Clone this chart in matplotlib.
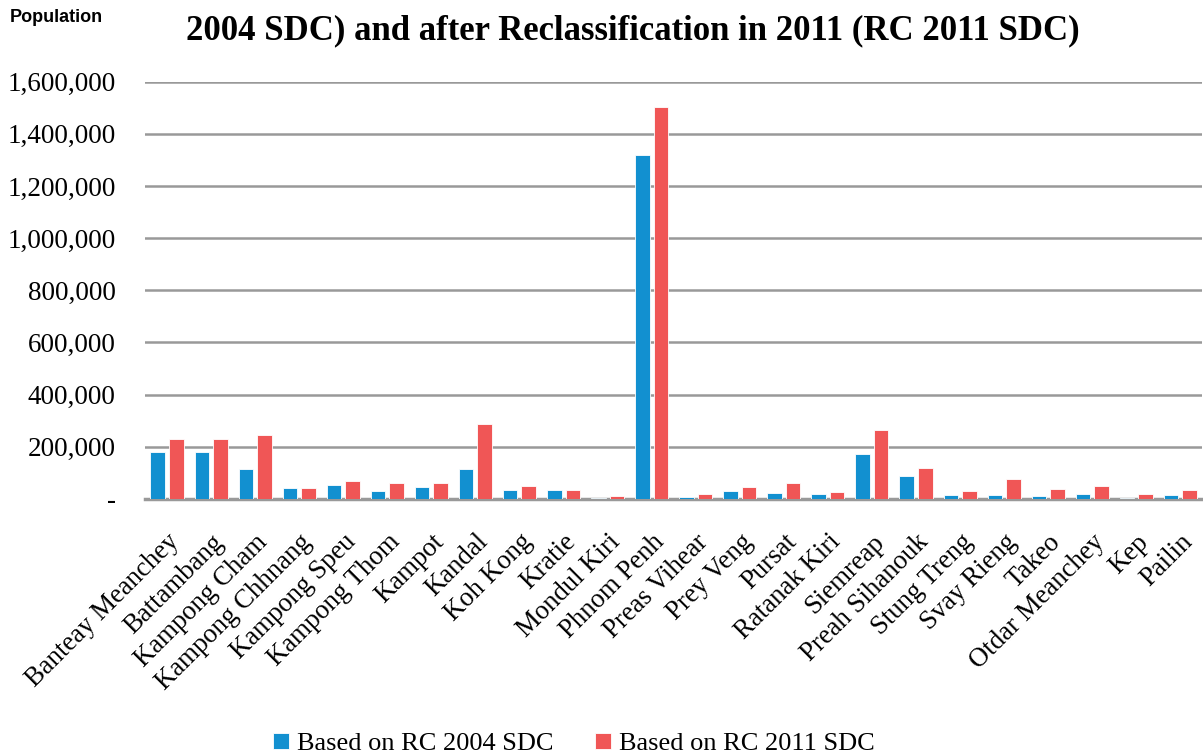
import numpy as np
import matplotlib.pyplot as plt
from matplotlib.ticker import FuncFormatter

provinces = ["Banteay Meanchey", "Battambang", "Kampong Cham", "Kampong Chhnang",
             "Kampong Speu", "Kampong Thom", "Kampot", "Kandal", "Koh Kong", "Kratie",
             "Mondul Kiri", "Phnom Penh", "Preas Vihear", "Prey Veng", "Pursat",
             "Ratanak Kiri", "Siemreap", "Preah Sihanouk", "Stung Treng", "Svay Rieng",
             "Takeo", "Otdar Meanchey", "Kep", "Pailin"]
rc2004 = [179500, 179500, 116700, 41000, 52600, 29500, 47400, 116700, 34600, 34600,
          2500, 1319000, 9000, 32000, 24400, 18000, 173000, 88500, 15400, 15400,
          12800, 18000, 3000, 14100]
rc2011 = [228000, 228000, 245000, 41000, 70500, 60000, 60000, 286000, 48700, 36000,
          10000, 1504000, 20500, 47400, 62800, 28200, 262800, 120500, 29500, 75600,
          39700, 50000, 18000, 35900]
yticks = [0, 200000, 400000, 600000, 800000, 1000000, 1200000, 1400000, 1600000]

serif = "Liberation Serif"
blue = "#1290D0"
red = "#F05656"

fig = plt.figure(figsize=(12.03, 7.56), dpi=100)
ax = fig.add_axes([0.1205, 0.34, 0.879, 0.552])

x = np.arange(len(provinces))
w = 0.33
ax.bar(x - 0.21, rc2004, w, color=blue, edgecolor="white", linewidth=0.6,
       label="Based on RC 2004 SDC", zorder=3)
ax.bar(x + 0.21, rc2011, w, color=red, edgecolor="white", linewidth=0.6,
       label="Based on RC 2011 SDC", zorder=3)

ax.set_xlim(-0.5, len(provinces) - 0.5)
ax.set_ylim(0, 1600000)
ax.set_yticks(yticks)
ax.yaxis.set_major_formatter(FuncFormatter(lambda v, p: "-" if v == 0 else f"{int(v):,}"))
ax.grid(axis="y", color="#999999", linewidth=1.8, zorder=0)
for s in ["top", "right", "left"]:
    ax.spines[s].set_visible(False)
ax.spines["bottom"].set_color("#999999")
ax.spines["bottom"].set_linewidth(2.5)
ax.tick_params(axis="y", length=0, pad=21, labelsize=19.5)
ax.tick_params(axis="x", length=0, pad=22)
for t in ax.get_yticklabels():
    t.set_fontfamily(serif)

ax.set_xticks(x)
ax.set_xticklabels(provinces, rotation=45, ha="right", rotation_mode="anchor",
                   fontsize=19.3, fontfamily=serif)

fig.text(0.526, 0.959, "2004 SDC) and after Reclassification in 2011 (RC 2011 SDC)",
         ha="center", va="center", fontsize=25, fontweight="bold", fontfamily=serif)
fig.text(0.008, 0.977, "Population", ha="left", va="center", fontsize=13,
         fontweight="bold", fontfamily="Liberation Sans")

fig.legend(loc="center", bbox_to_anchor=(0.477, 0.016), ncol=2, frameon=False,
           prop={"family": serif, "size": 19}, handlelength=0.6, handleheight=0.6,
           handletextpad=0.3, columnspacing=1.6)

fig.savefig("out.png", dpi=100)
